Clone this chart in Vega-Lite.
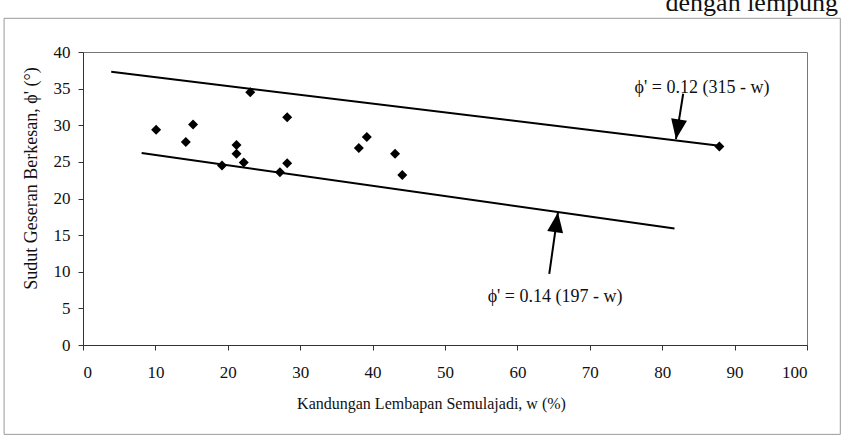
{
  "$schema": "https://vega.github.io/schema/vega-lite/v6.json",
  "width": 724,
  "height": 293,
  "autosize": {"type": "none"},
  "padding": {"left": 83, "top": 52, "right": 43, "bottom": 97},
  "background": "white",
  "config": {
    "view": {"stroke": "#777", "strokeWidth": 1},
    "font": "Liberation Serif",
    "axis": {
      "labelFont": "Liberation Serif",
      "titleFont": "Liberation Serif",
      "labelColor": "#111",
      "titleColor": "#111",
      "titleFontWeight": "normal",
      "labelFontSize": 17,
      "titleFontSize": 16,
      "domainColor": "#333",
      "tickColor": "#333",
      "grid": false,
      "tickSize": 5
    }
  },
  "datasets": {
    "pts": [
      {"w": 10.1, "phi": 29.4},
      {"w": 15.2, "phi": 30.1},
      {"w": 14.2, "phi": 27.7},
      {"w": 21.2, "phi": 27.3},
      {"w": 21.2, "phi": 26.1},
      {"w": 22.2, "phi": 24.9},
      {"w": 19.2, "phi": 24.5},
      {"w": 28.2, "phi": 31.1},
      {"w": 28.2, "phi": 24.8},
      {"w": 27.2, "phi": 23.6},
      {"w": 39.2, "phi": 28.4},
      {"w": 38.1, "phi": 26.9},
      {"w": 43.1, "phi": 26.1},
      {"w": 44.1, "phi": 23.2},
      {"w": 23.1, "phi": 34.5},
      {"w": 87.9, "phi": 27.1}
    ],
    "lines": [
      {"s": "upper", "w": 3.9, "phi": 37.3},
      {"s": "upper", "w": 87.9, "phi": 27.2},
      {"s": "lower", "w": 8.1, "phi": 26.2},
      {"s": "lower", "w": 81.7, "phi": 15.9}
    ],
    "arrows": [
      {"id": "upper", "w": 82.9, "phi": 34.3, "w2": 81.9, "phi2": 28.1},
      {"id": "lower", "w": 64.4, "phi": 9.7, "w2": 65.6, "phi2": 18.1}
    ],
    "labels": [
      {"t": "ϕ' = 0.12 (315 - w)", "w": 85.5, "phi": 35.1},
      {"t": "ϕ' = 0.14 (197 - w)", "w": 65.2, "phi": 6.6}
    ],
    "frame": [
      {"w": -10.9, "w2": 104.6, "phi": -12.2, "phi2": 44.6}
    ],
    "caption": [
      {"t": "dengan lempung", "w": 104.3, "phi": 45.6}
    ]
  },
  "encoding": {
    "x": {
      "field": "w",
      "type": "quantitative",
      "scale": {"domain": [0, 100], "nice": false},
      "axis": {
        "values": [0, 10, 20, 30, 40, 50, 60, 70, 80, 90, 100],
        "labelPadding": 14,
        "titlePadding": 15,
        "titleX": 348,
        "title": "Kandungan Lembapan Semulajadi, w (%)"
      }
    },
    "y": {
      "field": "phi",
      "type": "quantitative",
      "scale": {"domain": [0, 40], "nice": false},
      "axis": {
        "values": [0, 5, 10, 15, 20, 25, 30, 35, 40],
        "labelPadding": 8,
        "titlePadding": 13,
        "titleFontSize": 18,
        "titleY": 126,
        "title": "Sudut Geseran Berkesan, ϕ' (°)"
      }
    }
  },
  "layer": [
    {
      "data": {"name": "frame"},
      "mark": {"type": "rect", "fill": null, "stroke": "#999", "strokeWidth": 1, "clip": false},
      "encoding": {"x2": {"field": "w2"}, "y2": {"field": "phi2"}}
    },
    {
      "data": {"name": "caption"},
      "mark": {"type": "text", "align": "right", "baseline": "alphabetic", "fontSize": 26, "font": "Liberation Serif", "color": "#111"},
      "encoding": {"text": {"field": "t"}}
    },
    {
      "data": {"name": "lines"},
      "mark": {"type": "line", "color": "black", "strokeWidth": 2},
      "encoding": {"detail": {"field": "s"}}
    },
    {
      "data": {"name": "arrows"},
      "mark": {"type": "rule", "color": "black", "strokeWidth": 2},
      "encoding": {"x2": {"field": "w2"}, "y2": {"field": "phi2"}}
    },
    {
      "data": {"name": "arrows"},
      "transform": [{"filter": "datum.id == 'upper'"}],
      "mark": {"type": "point", "shape": "M0,0L-0.8,-2L0.8,-2Z", "filled": true, "color": "black", "opacity": 1, "size": 400, "angle": 9},
      "encoding": {"x": {"field": "w2", "type": "quantitative"}, "y": {"field": "phi2", "type": "quantitative"}}
    },
    {
      "data": {"name": "arrows"},
      "transform": [{"filter": "datum.id == 'lower'"}],
      "mark": {"type": "point", "shape": "M0,0L-0.8,2L0.8,2Z", "filled": true, "color": "black", "opacity": 1, "size": 400, "angle": 8},
      "encoding": {"x": {"field": "w2", "type": "quantitative"}, "y": {"field": "phi2", "type": "quantitative"}}
    },
    {
      "data": {"name": "pts"},
      "mark": {"type": "point", "shape": "diamond", "filled": true, "color": "black", "opacity": 1, "size": 100}
    },
    {
      "data": {"name": "labels"},
      "mark": {"type": "text", "fontSize": 18, "font": "Liberation Serif", "color": "#111"},
      "encoding": {"text": {"field": "t"}}
    }
  ]
}
